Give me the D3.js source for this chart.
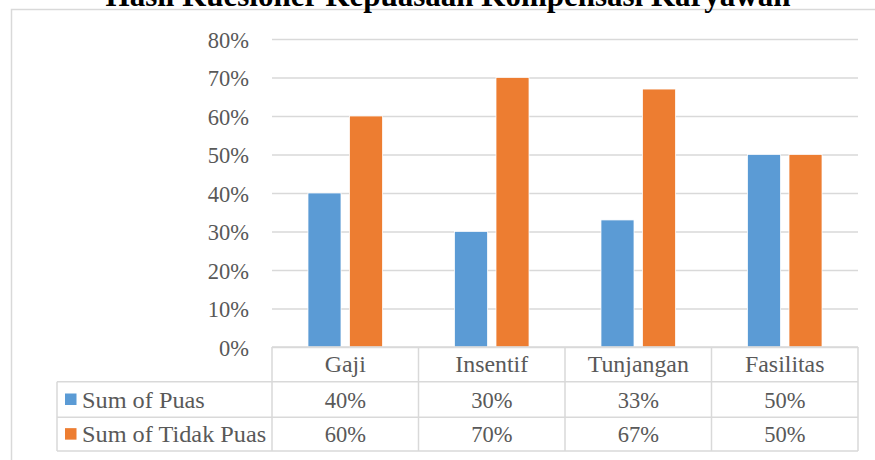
<!DOCTYPE html>
<html>
<head>
<meta charset="utf-8">
<script src="https://cdn.jsdelivr.net/npm/d3@7"></script>
<style>
  html, body { margin: 0; padding: 0; background: #fff; }
  svg { display: block; font-family: "Liberation Serif", "Times New Roman", serif; }
</style>
</head>
<body>
<svg id="chart" width="875" height="460"></svg>
<script>
// Data
const categories = ["Gaji", "Insentif", "Tunjangan", "Fasilitas"];
const seriesNames = ["Sum of Puas", "Sum of Tidak Puas"];
const puas = [0.40, 0.30, 0.33, 0.50];
const tidakPuas = [0.60, 0.70, 0.67, 0.50];
const yTicks = [0, 0.1, 0.2, 0.3, 0.4, 0.5, 0.6, 0.7, 0.8];
const titleText = "Hasil Kuesioner Kepuasaan Kompensasi Karyawan";

const seriesValues = [puas, tidakPuas];
const colors = ["#5B9BD5", "#ED7D31"];
const gridColor = "#D9D9D9";
const textColor = "#595959";
const fontSize = 22.5;
const wordStretch = 1.06;   // slight horizontal widening of word labels

const svg = d3.select("#chart");

// Plot geometry
const plot = { left: 272, right: 858, top: 39, bottom: 347 };
const rowH = [34.7, 35.6, 33.7];          // header row, series rows
const tableLeft = 57;

const x = d3.scaleBand().domain(categories).range([plot.left, plot.right]).paddingInner(0).paddingOuter(0);
const xs = d3.scaleBand().domain(seriesNames).range([0, x.bandwidth()]).paddingInner(0.205).paddingOuter(0.867);
const y = d3.scaleLinear().domain([0, 0.8]).range([plot.bottom, plot.top]);
const pct = d3.format(".0%");

// Chart frame (right and bottom edges fall outside the canvas)
svg.append("rect")
  .attr("x", 11.5).attr("y", 9.5).attr("width", 900).attr("height", 480)
  .attr("fill", "none").attr("stroke", gridColor).attr("stroke-width", 1.5);

// Title
svg.append("text")
  .attr("x", 448).attr("y", 6)
  .attr("text-anchor", "middle")
  .attr("font-weight", "bold").attr("font-size", 31).attr("fill", "#000")
  .text(titleText);

// Gridlines + y axis labels
const yAxis = d3.axisLeft(y).tickValues(yTicks).tickFormat(pct)
  .tickSize(-(plot.right - plot.left)).tickPadding(23);
const gy = svg.append("g").attr("transform", `translate(${plot.left},0)`).call(yAxis);
gy.select(".domain").remove();
gy.selectAll(".tick line").attr("stroke", gridColor).attr("stroke-width", 1.5);
gy.selectAll(".tick text")
  .attr("fill", textColor).attr("font-size", fontSize)
  .attr("font-family", "Liberation Serif, Times New Roman, serif")
  .attr("dy", "0.36em");

// Bars
const groups = svg.append("g").selectAll("g")
  .data(seriesNames.map((name, i) => ({ name, values: seriesValues[i], color: colors[i] })))
  .join("g").attr("fill", d => d.color);
groups.selectAll("rect")
  .data(d => d.values.map((v, j) => ({ name: d.name, cat: categories[j], v })))
  .join("rect")
  .attr("x", d => x(d.cat) + xs(d.name))
  .attr("width", xs.bandwidth())
  .attr("y", d => y(d.v))
  .attr("height", d => y(0) - y(d.v))
  .attr("stroke", "#fff").attr("stroke-width", 0.75);

// Data table
const rowTops = [plot.bottom, plot.bottom + rowH[0], plot.bottom + rowH[0] + rowH[1]];
const tableBottom = rowTops[2] + rowH[2];
const lines = svg.append("g").attr("stroke", gridColor).attr("stroke-width", 1.5).attr("fill", "none");

// horizontal rules
lines.append("line").attr("x1", plot.left).attr("x2", plot.right).attr("y1", rowTops[0]).attr("y2", rowTops[0]);
[rowTops[1], rowTops[2], tableBottom].forEach(yy => {
  lines.append("line").attr("x1", tableLeft).attr("x2", plot.right).attr("y1", yy).attr("y2", yy);
});
// vertical rules
const colEdges = categories.map(c => x(c)).concat([plot.right]);
colEdges.forEach(xx => {
  lines.append("line").attr("x1", xx).attr("x2", xx).attr("y1", rowTops[0]).attr("y2", tableBottom);
});
lines.append("line").attr("x1", tableLeft).attr("x2", tableLeft).attr("y1", rowTops[1]).attr("y2", tableBottom);

const txt = svg.append("g").attr("fill", textColor).attr("font-size", fontSize);

// header row: category names
txt.selectAll("text.cat").data(categories).join("text")
  .attr("class", "cat")
  .attr("transform", d => `translate(${x(d) + x.bandwidth() / 2},${rowTops[0] + rowH[0] / 2}) scale(${wordStretch},1)`)
  .attr("dy", "0.36em")
  .attr("text-anchor", "middle")
  .text(d => d);

// series rows: legend key, name, values
seriesNames.forEach((name, i) => {
  const top = rowTops[i + 1], h = rowH[i + 1];
  const cy = top + h / 2;
  svg.append("rect")
    .attr("x", 65).attr("y", cy - 6).attr("width", 11.5).attr("height", 11.5)
    .attr("fill", colors[i]);
  txt.append("text")
    .attr("transform", `translate(82,${cy}) scale(${wordStretch + 0.02},1)`)
    .attr("dy", "0.36em")
    .text(name);
  txt.selectAll(null).data(seriesValues[i]).join("text")
    .attr("x", (d, j) => x(categories[j]) + x.bandwidth() / 2)
    .attr("y", cy).attr("dy", "0.36em")
    .attr("text-anchor", "middle")
    .text(d => pct(d));
});
</script>
</body>
</html>
